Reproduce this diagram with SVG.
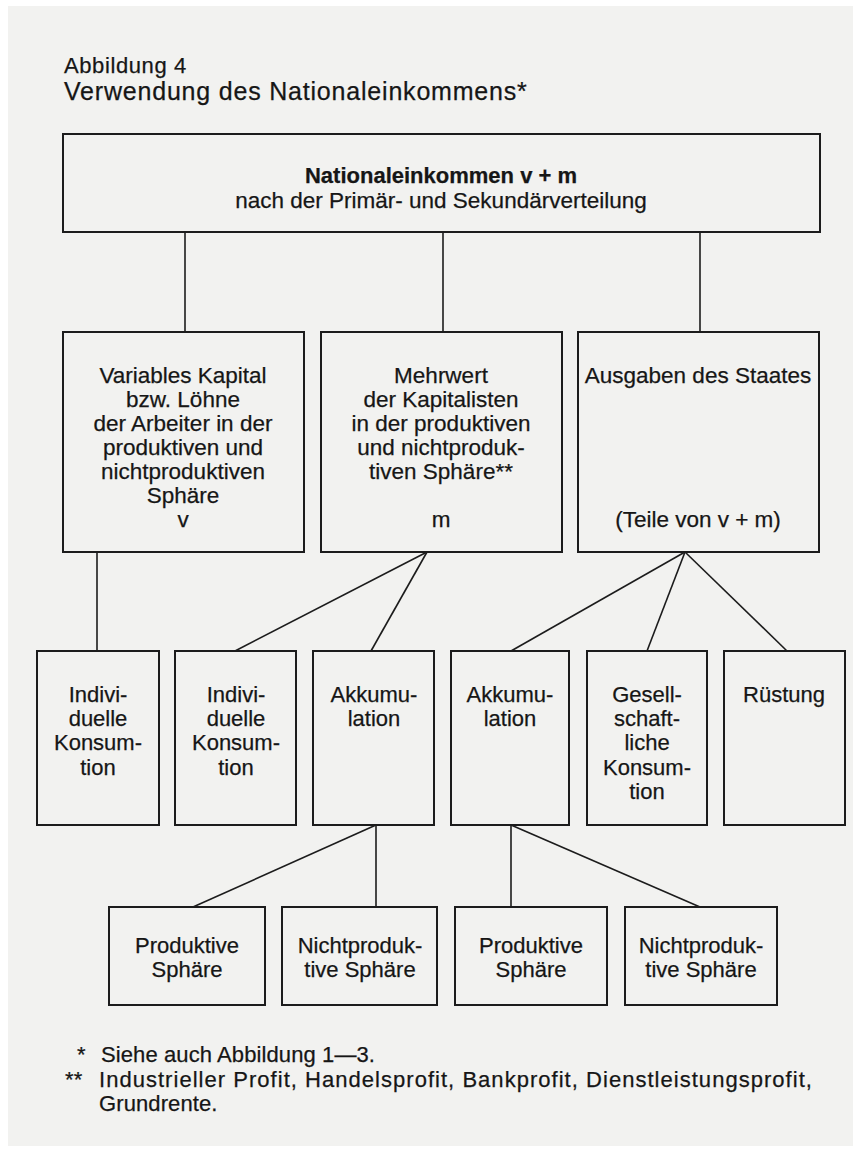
<svg xmlns="http://www.w3.org/2000/svg" width="863" height="1153" viewBox="0 0 863 1153">
<style>
.box{fill:none;stroke:#1c1c1c;stroke-width:2}
.con line{stroke:#1c1c1c;stroke-width:1.6}
text{font-family:"Liberation Sans",Arial,sans-serif;fill:#161616;stroke:#161616;stroke-width:0.25px}
.mid{font-size:22.5px;text-anchor:middle}
.low{font-size:22px;text-anchor:middle}
.hd{font-size:22px;text-anchor:middle}
.fn{font-size:22px;letter-spacing:0.1px}
</style>
<rect x="0" y="0" width="863" height="1153" fill="#ffffff"/>
<rect x="8" y="6" width="845" height="1140" fill="#f2f2f0"/>

<text x="64" y="73" style="font-size:22px;letter-spacing:0.6px">Abbildung 4</text>
<text x="64" y="100" style="font-size:25px;letter-spacing:0.8px">Verwendung des Nationaleinkommens*</text>

<g class="con" id="connectors">
<line x1="185" y1="232" x2="185" y2="332"/>
<line x1="443" y1="232" x2="443" y2="332"/>
<line x1="700" y1="232" x2="700" y2="332"/>
<line x1="97" y1="552" x2="97" y2="651"/>
<line x1="427" y1="552" x2="235" y2="651"/>
<line x1="427" y1="552" x2="371" y2="651"/>
<line x1="685" y1="552" x2="511" y2="651"/>
<line x1="685" y1="552" x2="647" y2="651"/>
<line x1="685" y1="552" x2="787" y2="651"/>
<line x1="376" y1="825" x2="193" y2="907"/>
<line x1="376" y1="825" x2="376" y2="907"/>
<line x1="511" y1="825" x2="511" y2="907"/>
<line x1="511" y1="825" x2="700" y2="907"/>
</g>

<g id="national">
<rect class="box" x="63" y="134" width="757" height="98"/>
<text class="hd" x="441" y="183" style="font-weight:bold">Nationaleinkommen v + m</text>
<text class="hd" x="441" y="208" style="font-size:22.5px">nach der Primär- und Sekundärverteilung</text>
</g>

<g id="variables">
<rect class="box" x="63" y="332" width="241" height="220"/>
<text class="mid" x="183" y="383">Variables Kapital</text>
<text class="mid" x="183" y="407">bzw. Löhne</text>
<text class="mid" x="183" y="431">der Arbeiter in der</text>
<text class="mid" x="183" y="455">produktiven und</text>
<text class="mid" x="183" y="479">nichtproduktiven</text>
<text class="mid" x="183" y="503">Sphäre</text>
<text class="mid" x="183" y="527">v</text>
</g>

<g id="mehrwert">
<rect class="box" x="321" y="332" width="241" height="220"/>
<text class="mid" x="441" y="383">Mehrwert</text>
<text class="mid" x="441" y="407">der Kapitalisten</text>
<text class="mid" x="441" y="431">in der produktiven</text>
<text class="mid" x="441" y="455">und nichtproduk-</text>
<text class="mid" x="441" y="479">tiven Sphäre**</text>
<text class="mid" x="441" y="527">m</text>
</g>

<g id="staat">
<rect class="box" x="578" y="332" width="241" height="220"/>
<text class="mid" x="698" y="383">Ausgaben des Staates</text>
<text class="mid" x="698" y="527">(Teile von v + m)</text>
</g>

<g id="indiv1">
<rect class="box" x="37" y="651" width="122" height="174"/>
<text class="low" x="98" y="702">Indivi-</text>
<text class="low" x="98" y="726">duelle</text>
<text class="low" x="98" y="750">Konsum-</text>
<text class="low" x="98" y="775">tion</text>
</g>

<g id="indiv2">
<rect class="box" x="175" y="651" width="121" height="174"/>
<text class="low" x="236" y="702">Indivi-</text>
<text class="low" x="236" y="726">duelle</text>
<text class="low" x="236" y="750">Konsum-</text>
<text class="low" x="236" y="775">tion</text>
</g>

<g id="akku1">
<rect class="box" x="313" y="651" width="121" height="174"/>
<text class="low" x="374" y="702">Akkumu-</text>
<text class="low" x="374" y="726">lation</text>
</g>

<g id="akku2">
<rect class="box" x="451" y="651" width="118" height="174"/>
<text class="low" x="510" y="702">Akkumu-</text>
<text class="low" x="510" y="726">lation</text>
</g>

<g id="gesell">
<rect class="box" x="587" y="651" width="120" height="174"/>
<text class="low" x="647" y="702">Gesell-</text>
<text class="low" x="647" y="726">schaft-</text>
<text class="low" x="647" y="750">liche</text>
<text class="low" x="647" y="775">Konsum-</text>
<text class="low" x="647" y="799">tion</text>
</g>

<g id="ruestung">
<rect class="box" x="724" y="651" width="121" height="174"/>
<text class="low" x="784" y="702">Rüstung</text>
</g>

<g id="prod1">
<rect class="box" x="109" y="907" width="156" height="98"/>
<text class="low" x="187" y="953">Produktive</text>
<text class="low" x="187" y="977">Sphäre</text>
</g>

<g id="nprod1">
<rect class="box" x="282" y="907" width="155" height="98"/>
<text class="low" x="360" y="953">Nichtproduk-</text>
<text class="low" x="360" y="977">tive Sphäre</text>
</g>

<g id="prod2">
<rect class="box" x="455" y="907" width="152" height="98"/>
<text class="low" x="531" y="953">Produktive</text>
<text class="low" x="531" y="977">Sphäre</text>
</g>

<g id="nprod2">
<rect class="box" x="625" y="907" width="152" height="98"/>
<text class="low" x="701" y="953">Nichtproduk-</text>
<text class="low" x="701" y="977">tive Sphäre</text>
</g>

<g id="footnotes">
<text class="fn" x="77" y="1062">*</text>
<text class="fn" x="101" y="1062">Siehe auch Abbildung 1—3.</text>
<text class="fn" x="65" y="1087">**</text>
<text class="fn" x="99" y="1087" textLength="713">Industrieller Profit, Handelsprofit, Bankprofit, Dienstleistungsprofit,</text>
<text class="fn" x="99" y="1111">Grundrente.</text>
</g>
</svg>
